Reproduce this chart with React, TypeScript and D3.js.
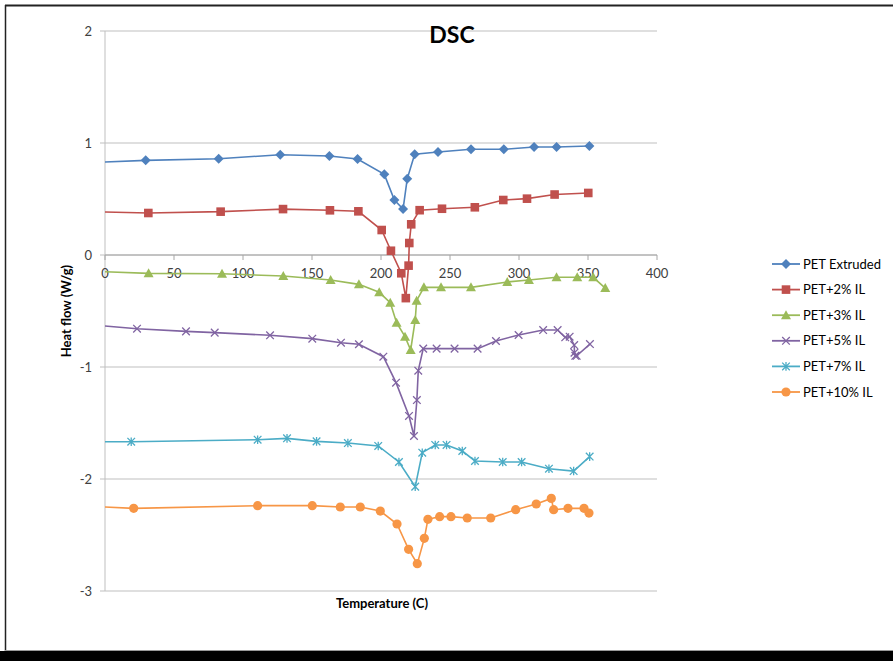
import React from "react";
import * as d3 from "d3";

const seriesNames = ["PET Extruded", "PET+2% IL", "PET+3% IL", "PET+5% IL", "PET+7% IL", "PET+10% IL"];
const seriesColors = ["#4F81BD", "#C0504D", "#9BBB59", "#8064A2", "#4BACC6", "#F79646"];
const seriesMarkers = ["diamond", "square", "triangle", "x", "star", "circle"];

const extrudedT = [0, 29.5, 82.4, 127, 162.6, 183, 202.4, 209.7, 216, 219, 224.4, 241.3, 265.2, 289, 310.9, 327.2, 351];
const extrudedV = [0.83, 0.845, 0.86, 0.895, 0.884, 0.857, 0.72, 0.49, 0.41, 0.68, 0.9, 0.92, 0.944, 0.944, 0.964, 0.964, 0.973];

const il2T = [0, 31.4, 83.8, 129, 163, 183.6, 200.5, 207.2, 214.7, 218, 220, 220.5, 221.9, 228, 244.2, 268, 288.6, 305.8, 325.8, 350.2];
const il2V = [0.384, 0.375, 0.387, 0.41, 0.399, 0.39, 0.223, 0.038, -0.163, -0.385, -0.095, 0.107, 0.274, 0.4, 0.413, 0.426, 0.491, 0.503, 0.54, 0.554];

const il3T = [0, 31.6, 84.8, 129.2, 163.5, 184, 198.7, 206.7, 211.3, 217.4, 221.5, 224.8, 225.8, 231.1, 243.5, 265.2, 291.5, 307.2, 327.2, 342.2, 353.8, 362.5];
const il3V = [-0.149, -0.164, -0.167, -0.188, -0.223, -0.262, -0.333, -0.426, -0.604, -0.729, -0.848, -0.58, -0.408, -0.289, -0.289, -0.289, -0.241, -0.223, -0.199, -0.199, -0.199, -0.295];

const il5T = [0, 23.2, 58.7, 79.5, 119.6, 150.2, 171, 184, 201.7, 210.9, 220.3, 223.9, 226, 227, 230.6, 240.3, 253.3, 270, 283.3, 299.7, 317.5, 328, 333.5, 336.7, 340, 340.2, 340.8, 341.8, 351.4];
const il5V = [-0.634, -0.658, -0.682, -0.693, -0.717, -0.747, -0.783, -0.797, -0.908, -1.14, -1.437, -1.616, -1.295, -1.033, -0.836, -0.836, -0.836, -0.836, -0.768, -0.714, -0.67, -0.67, -0.735, -0.729, -0.804, -0.872, -0.9, -0.9, -0.795];

const il7T = [0, 19, 110.6, 131.9, 153.3, 176, 198, 213, 224.8, 229.9, 239.3, 247.5, 258.9, 268.1, 288.2, 301.9, 321.7, 339.6, 351.2];
const il7V = [-1.667, -1.667, -1.649, -1.637, -1.664, -1.679, -1.705, -1.848, -2.068, -1.765, -1.696, -1.696, -1.75, -1.839, -1.848, -1.848, -1.908, -1.929, -1.8];

const il10T = [0, 20.8, 110.6, 150.2, 170.5, 185, 199.5, 211.6, 220, 226.3, 231.4, 234, 242.5, 250.7, 262.5, 279.5, 297.6, 312.5, 323.4, 325.1, 335.5, 347.1, 350.7];
const il10V = [-2.25, -2.262, -2.238, -2.238, -2.25, -2.25, -2.286, -2.402, -2.628, -2.756, -2.53, -2.36, -2.336, -2.336, -2.348, -2.348, -2.274, -2.223, -2.173, -2.274, -2.262, -2.262, -2.304];

const seriesT = [extrudedT, il2T, il3T, il5T, il7T, il10T];
const seriesV = [extrudedV, il2V, il3V, il5V, il7V, il10V];

const xTicks = [0, 50, 100, 150, 200, 250, 300, 350, 400];
const yTicks = [-3, -2, -1, 0, 1, 2];

const FONT = "Lato, 'Open Sans', sans-serif";

function Marker({ type, x, y, color }: { type: string; x: number; y: number; color: string }) {
  if (type === "diamond") {
    const s = 5;
    return <path d={`M${x},${y - s}L${x + s},${y}L${x},${y + s}L${x - s},${y}Z`} fill={color} />;
  }
  if (type === "square") {
    return <rect x={x - 4.3} y={y - 4.3} width={8.6} height={8.6} fill={color} />;
  }
  if (type === "triangle") {
    return <path d={`M${x},${y - 5}L${x + 5},${y + 4}L${x - 5},${y + 4}Z`} fill={color} />;
  }
  if (type === "x") {
    const s = 3.8;
    return (
      <path d={`M${x - s},${y - s}L${x + s},${y + s}M${x - s},${y + s}L${x + s},${y - s}`} stroke={color} strokeWidth={1.3} fill="none" />
    );
  }
  if (type === "star") {
    const s = 3.8;
    return (
      <path
        d={`M${x - s},${y - s}L${x + s},${y + s}M${x - s},${y + s}L${x + s},${y - s}M${x},${y - s - 0.5}L${x},${y + s + 0.5}`}
        stroke={color}
        strokeWidth={1.3}
        fill="none"
      />
    );
  }
  return <circle cx={x} cy={y} r={4.6} fill={color} />;
}

export default function App() {
  const W = 893;
  const H = 661;
  const x = d3.scaleLinear().domain([0, 400]).range([105, 657]);
  const y = d3.scaleLinear().domain([-3, 2]).range([591, 31]);
  const line = d3
    .line<[number, number]>()
    .x((d) => x(d[0]))
    .y((d) => y(d[1]));

  const legendY0 = 264;
  const legendStep = 25.6;

  return (
    <svg
      width={W}
      height={H}
      style={{ position: "absolute", left: 0, top: 0, background: "#fff" }}
      fontFamily={FONT}
    >
      <rect x={0} y={0} width={W} height={H} fill="#fff" />
      {/* frame */}
      <line x1={5} x2={W} y1={5.5} y2={5.5} stroke="#222" strokeWidth={2} />
      <line x1={5.5} x2={5.5} y1={5} y2={651} stroke="#222" strokeWidth={1.5} />
      <line x1={5} x2={W} y1={650.5} y2={650.5} stroke="#999" strokeWidth={1} />
      <rect x={0} y={651} width={W} height={10} fill="#000" />

      {/* gridlines */}
      {yTicks.map((t) => (
        <line key={"g" + t} x1={x(0)} x2={x(400)} y1={y(t)} y2={y(t)} stroke="#BFBFBF" strokeWidth={1} />
      ))}
      {/* y axis */}
      <line x1={x(0)} x2={x(0)} y1={y(2)} y2={y(-3)} stroke="#BFBFBF" strokeWidth={1} />
      {yTicks.map((t) => (
        <g key={"yt" + t}>
          <line x1={x(0) - 5} x2={x(0)} y1={y(t)} y2={y(t)} stroke="#BFBFBF" />
          <text x={x(0) - 13} y={y(t)} dy="0.35em" textAnchor="end" fontSize={13} fill="#404040">
            {t}
          </text>
        </g>
      ))}
      {/* x axis at y=0 */}
      <line x1={x(0)} x2={x(400)} y1={y(0)} y2={y(0)} stroke="#A6A6A6" strokeWidth={1} />
      {xTicks.map((t) => (
        <g key={"xt" + t}>
          <line x1={x(t)} x2={x(t)} y1={y(0)} y2={y(0) + 5} stroke="#A6A6A6" />
          <text x={x(t)} y={y(0) + 23} textAnchor="middle" fontSize={13} fill="#404040">
            {t}
          </text>
        </g>
      ))}

      {/* series */}
      {seriesNames.map((name, i) => {
        const pts: [number, number][] = seriesT[i].map((t, j) => [t, seriesV[i][j]]);
        return (
          <g key={name}>
            <path d={line(pts) || ""} fill="none" stroke={seriesColors[i]} strokeWidth={1.6} />
            {pts.map((p, j) => (j === 0 ? null : <Marker key={j} type={seriesMarkers[i]} x={x(p[0])} y={y(p[1])} color={seriesColors[i]} />))}
          </g>
        );
      })}

      {/* titles */}
      <text x={452} y={43} textAnchor="middle" fontSize={23} fontWeight="bold" fill="#000">
        DSC
      </text>
      <text x={382} y={608} textAnchor="middle" fontSize={13} fontWeight="bold" fill="#000">
        Temperature (C)
      </text>
      <text
        transform={`translate(71,${(y(2) + y(-3)) / 2}) rotate(-90)`}
        textAnchor="middle"
        fontSize={13}
        fontWeight="bold"
        fill="#000"
      >
        Heat flow (W/g)
      </text>

      {/* legend */}
      {seriesNames.map((name, i) => {
        const ly = legendY0 + i * legendStep;
        return (
          <g key={"lg" + name}>
            <line x1={772} x2={800} y1={ly} y2={ly} stroke={seriesColors[i]} strokeWidth={1.8} />
            <Marker type={seriesMarkers[i]} x={786} y={ly} color={seriesColors[i]} />
            <text x={803} y={ly} dy="0.35em" fontSize={13} fill="#000">
              {name}
            </text>
          </g>
        );
      })}
    </svg>
  );
}
